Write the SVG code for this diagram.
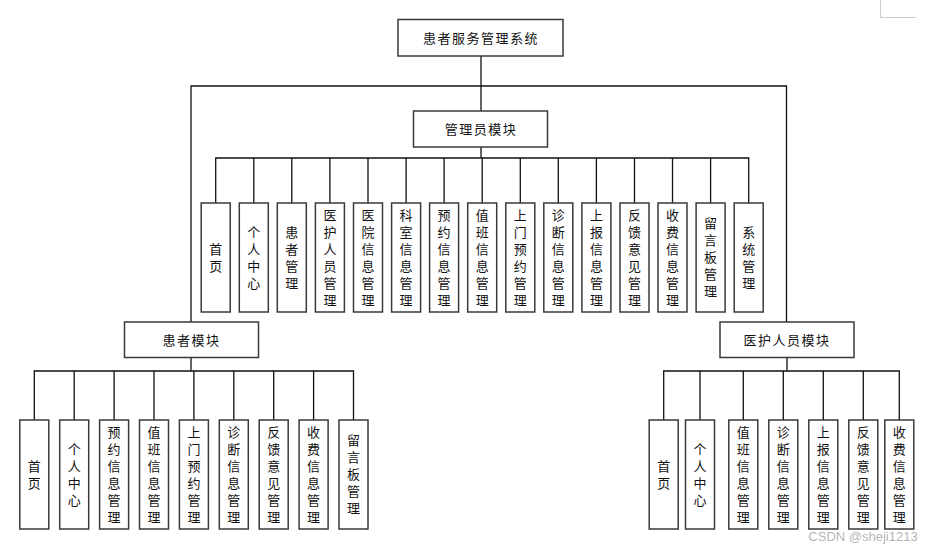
<svg xmlns="http://www.w3.org/2000/svg" width="939" height="546" viewBox="0 0 939 546">
<style>
.box{fill:#fff;stroke:#3a3a3a;stroke-width:1.5}
.ln{fill:none;stroke:#111;stroke-width:1.3}
.t{font-family:"Liberation Sans","Noto Sans CJK SC",sans-serif;font-size:13px;fill:#111;text-anchor:middle}
.h{letter-spacing:1.5px}
</style>
<rect width="939" height="546" fill="#fff"/>
<path d="M880.5 0V17.5H916" fill="none" stroke="#ccc" stroke-width="1"/>
<g id="connectors" class="ln">
<path d="M481 56V111"/>
<path d="M191 322V86H786.5V322"/>
<path d="M481 147V158"/>
<path d="M215.7 203V158H748.7V203M253.8 158V203M291.8 158V203M329.9 158V203M368 158V203M406.1 158V203M444.1 158V203M482.2 158V203M520.3 158V203M558.3 158V203M596.4 158V203M634.5 158V203M672.5 158V203M710.6 158V203"/>
<path d="M191 357V371"/>
<path d="M34.3 420V371H353.5V420M74.2 371V420M114.1 371V420M154 371V420M193.9 371V420M233.8 371V420M273.7 371V420M313.6 371V420"/>
<path d="M787 357V371"/>
<path d="M663.7 420V371H899.3V420M700 371V420M743.3 371V420M783.3 371V420M823.3 371V420M863.3 371V420"/>
</g>
<g id="root"><rect class="box" x="398" y="19.5" width="165" height="36.5"/><text class="t h" x="481" y="43">患者服务管理系统</text></g>
<g id="admin"><rect class="box" x="413.5" y="111" width="134" height="36"/><text class="t h" x="481" y="134">管理员模块</text></g>
<g id="patient"><rect class="box" x="124.5" y="322" width="134" height="35.5"/><text class="t h" x="191.5" y="344.5">患者模块</text></g>
<g id="staff"><rect class="box" x="720" y="322" width="134" height="35.5"/><text class="t h" x="787" y="344.5">医护人员模块</text></g>

<g id="a0"><rect class="box" x="201.2" y="203" width="29" height="109"/><text class="t" y="253.5"><tspan x="215.7">首</tspan><tspan x="215.7" dy="17">页</tspan></text></g>
<g id="a1"><rect class="box" x="239.3" y="203" width="29" height="109"/><text class="t" y="236.5"><tspan x="253.8">个</tspan><tspan x="253.8" dy="17">人</tspan><tspan x="253.8" dy="17">中</tspan><tspan x="253.8" dy="17">心</tspan></text></g>
<g id="a2"><rect class="box" x="277.3" y="203" width="29" height="109"/><text class="t" y="236.5"><tspan x="291.8">患</tspan><tspan x="291.8" dy="17">者</tspan><tspan x="291.8" dy="17">管</tspan><tspan x="291.8" dy="17">理</tspan></text></g>
<g id="a3"><rect class="box" x="315.4" y="203" width="29" height="109"/><text class="t" y="219.5"><tspan x="329.9">医</tspan><tspan x="329.9" dy="17">护</tspan><tspan x="329.9" dy="17">人</tspan><tspan x="329.9" dy="17">员</tspan><tspan x="329.9" dy="17">管</tspan><tspan x="329.9" dy="17">理</tspan></text></g>
<g id="a4"><rect class="box" x="353.5" y="203" width="29" height="109"/><text class="t" y="219.5"><tspan x="368">医</tspan><tspan x="368" dy="17">院</tspan><tspan x="368" dy="17">信</tspan><tspan x="368" dy="17">息</tspan><tspan x="368" dy="17">管</tspan><tspan x="368" dy="17">理</tspan></text></g>
<g id="a5"><rect class="box" x="391.6" y="203" width="29" height="109"/><text class="t" y="219.5"><tspan x="406.1">科</tspan><tspan x="406.1" dy="17">室</tspan><tspan x="406.1" dy="17">信</tspan><tspan x="406.1" dy="17">息</tspan><tspan x="406.1" dy="17">管</tspan><tspan x="406.1" dy="17">理</tspan></text></g>
<g id="a6"><rect class="box" x="429.6" y="203" width="29" height="109"/><text class="t" y="219.5"><tspan x="444.1">预</tspan><tspan x="444.1" dy="17">约</tspan><tspan x="444.1" dy="17">信</tspan><tspan x="444.1" dy="17">息</tspan><tspan x="444.1" dy="17">管</tspan><tspan x="444.1" dy="17">理</tspan></text></g>
<g id="a7"><rect class="box" x="467.7" y="203" width="29" height="109"/><text class="t" y="219.5"><tspan x="482.2">值</tspan><tspan x="482.2" dy="17">班</tspan><tspan x="482.2" dy="17">信</tspan><tspan x="482.2" dy="17">息</tspan><tspan x="482.2" dy="17">管</tspan><tspan x="482.2" dy="17">理</tspan></text></g>
<g id="a8"><rect class="box" x="505.8" y="203" width="29" height="109"/><text class="t" y="219.5"><tspan x="520.3">上</tspan><tspan x="520.3" dy="17">门</tspan><tspan x="520.3" dy="17">预</tspan><tspan x="520.3" dy="17">约</tspan><tspan x="520.3" dy="17">管</tspan><tspan x="520.3" dy="17">理</tspan></text></g>
<g id="a9"><rect class="box" x="543.8" y="203" width="29" height="109"/><text class="t" y="219.5"><tspan x="558.3">诊</tspan><tspan x="558.3" dy="17">断</tspan><tspan x="558.3" dy="17">信</tspan><tspan x="558.3" dy="17">息</tspan><tspan x="558.3" dy="17">管</tspan><tspan x="558.3" dy="17">理</tspan></text></g>
<g id="a10"><rect class="box" x="581.9" y="203" width="29" height="109"/><text class="t" y="219.5"><tspan x="596.4">上</tspan><tspan x="596.4" dy="17">报</tspan><tspan x="596.4" dy="17">信</tspan><tspan x="596.4" dy="17">息</tspan><tspan x="596.4" dy="17">管</tspan><tspan x="596.4" dy="17">理</tspan></text></g>
<g id="a11"><rect class="box" x="620" y="203" width="29" height="109"/><text class="t" y="219.5"><tspan x="634.5">反</tspan><tspan x="634.5" dy="17">馈</tspan><tspan x="634.5" dy="17">意</tspan><tspan x="634.5" dy="17">见</tspan><tspan x="634.5" dy="17">管</tspan><tspan x="634.5" dy="17">理</tspan></text></g>
<g id="a12"><rect class="box" x="658" y="203" width="29" height="109"/><text class="t" y="219.5"><tspan x="672.5">收</tspan><tspan x="672.5" dy="17">费</tspan><tspan x="672.5" dy="17">信</tspan><tspan x="672.5" dy="17">息</tspan><tspan x="672.5" dy="17">管</tspan><tspan x="672.5" dy="17">理</tspan></text></g>
<g id="a13"><rect class="box" x="696.1" y="203" width="29" height="109"/><text class="t" y="228"><tspan x="710.6">留</tspan><tspan x="710.6" dy="17">言</tspan><tspan x="710.6" dy="17">板</tspan><tspan x="710.6" dy="17">管</tspan><tspan x="710.6" dy="17">理</tspan></text></g>
<g id="a14"><rect class="box" x="734.2" y="203" width="29" height="109"/><text class="t" y="236.5"><tspan x="748.7">系</tspan><tspan x="748.7" dy="17">统</tspan><tspan x="748.7" dy="17">管</tspan><tspan x="748.7" dy="17">理</tspan></text></g>

<g id="p0"><rect class="box" x="19.8" y="420" width="29" height="109"/><text class="t" y="470.5"><tspan x="34.3">首</tspan><tspan x="34.3" dy="17">页</tspan></text></g>
<g id="p1"><rect class="box" x="59.7" y="420" width="29" height="109"/><text class="t" y="453.5"><tspan x="74.2">个</tspan><tspan x="74.2" dy="17">人</tspan><tspan x="74.2" dy="17">中</tspan><tspan x="74.2" dy="17">心</tspan></text></g>
<g id="p2"><rect class="box" x="99.6" y="420" width="29" height="109"/><text class="t" y="436.5"><tspan x="114.1">预</tspan><tspan x="114.1" dy="17">约</tspan><tspan x="114.1" dy="17">信</tspan><tspan x="114.1" dy="17">息</tspan><tspan x="114.1" dy="17">管</tspan><tspan x="114.1" dy="17">理</tspan></text></g>
<g id="p3"><rect class="box" x="139.5" y="420" width="29" height="109"/><text class="t" y="436.5"><tspan x="154">值</tspan><tspan x="154" dy="17">班</tspan><tspan x="154" dy="17">信</tspan><tspan x="154" dy="17">息</tspan><tspan x="154" dy="17">管</tspan><tspan x="154" dy="17">理</tspan></text></g>
<g id="p4"><rect class="box" x="179.4" y="420" width="29" height="109"/><text class="t" y="436.5"><tspan x="193.9">上</tspan><tspan x="193.9" dy="17">门</tspan><tspan x="193.9" dy="17">预</tspan><tspan x="193.9" dy="17">约</tspan><tspan x="193.9" dy="17">管</tspan><tspan x="193.9" dy="17">理</tspan></text></g>
<g id="p5"><rect class="box" x="219.3" y="420" width="29" height="109"/><text class="t" y="436.5"><tspan x="233.8">诊</tspan><tspan x="233.8" dy="17">断</tspan><tspan x="233.8" dy="17">信</tspan><tspan x="233.8" dy="17">息</tspan><tspan x="233.8" dy="17">管</tspan><tspan x="233.8" dy="17">理</tspan></text></g>
<g id="p6"><rect class="box" x="259.2" y="420" width="29" height="109"/><text class="t" y="436.5"><tspan x="273.7">反</tspan><tspan x="273.7" dy="17">馈</tspan><tspan x="273.7" dy="17">意</tspan><tspan x="273.7" dy="17">见</tspan><tspan x="273.7" dy="17">管</tspan><tspan x="273.7" dy="17">理</tspan></text></g>
<g id="p7"><rect class="box" x="299.1" y="420" width="29" height="109"/><text class="t" y="436.5"><tspan x="313.6">收</tspan><tspan x="313.6" dy="17">费</tspan><tspan x="313.6" dy="17">信</tspan><tspan x="313.6" dy="17">息</tspan><tspan x="313.6" dy="17">管</tspan><tspan x="313.6" dy="17">理</tspan></text></g>
<g id="p8"><rect class="box" x="339" y="420" width="29" height="109"/><text class="t" y="445"><tspan x="353.5">留</tspan><tspan x="353.5" dy="17">言</tspan><tspan x="353.5" dy="17">板</tspan><tspan x="353.5" dy="17">管</tspan><tspan x="353.5" dy="17">理</tspan></text></g>

<g id="s0"><rect class="box" x="649.2" y="420" width="29" height="109"/><text class="t" y="470.5"><tspan x="663.7">首</tspan><tspan x="663.7" dy="17">页</tspan></text></g>
<g id="s1"><rect class="box" x="685.5" y="420" width="29" height="109"/><text class="t" y="453.5"><tspan x="700">个</tspan><tspan x="700" dy="17">人</tspan><tspan x="700" dy="17">中</tspan><tspan x="700" dy="17">心</tspan></text></g>
<g id="s2"><rect class="box" x="728.8" y="420" width="29" height="109"/><text class="t" y="436.5"><tspan x="743.3">值</tspan><tspan x="743.3" dy="17">班</tspan><tspan x="743.3" dy="17">信</tspan><tspan x="743.3" dy="17">息</tspan><tspan x="743.3" dy="17">管</tspan><tspan x="743.3" dy="17">理</tspan></text></g>
<g id="s3"><rect class="box" x="768.8" y="420" width="29" height="109"/><text class="t" y="436.5"><tspan x="783.3">诊</tspan><tspan x="783.3" dy="17">断</tspan><tspan x="783.3" dy="17">信</tspan><tspan x="783.3" dy="17">息</tspan><tspan x="783.3" dy="17">管</tspan><tspan x="783.3" dy="17">理</tspan></text></g>
<g id="s4"><rect class="box" x="808.8" y="420" width="29" height="109"/><text class="t" y="436.5"><tspan x="823.3">上</tspan><tspan x="823.3" dy="17">报</tspan><tspan x="823.3" dy="17">信</tspan><tspan x="823.3" dy="17">息</tspan><tspan x="823.3" dy="17">管</tspan><tspan x="823.3" dy="17">理</tspan></text></g>
<g id="s5"><rect class="box" x="848.8" y="420" width="29" height="109"/><text class="t" y="436.5"><tspan x="863.3">反</tspan><tspan x="863.3" dy="17">馈</tspan><tspan x="863.3" dy="17">意</tspan><tspan x="863.3" dy="17">见</tspan><tspan x="863.3" dy="17">管</tspan><tspan x="863.3" dy="17">理</tspan></text></g>
<g id="s6"><rect class="box" x="884.8" y="420" width="29" height="109"/><text class="t" y="436.5"><tspan x="899.3">收</tspan><tspan x="899.3" dy="17">费</tspan><tspan x="899.3" dy="17">信</tspan><tspan x="899.3" dy="17">息</tspan><tspan x="899.3" dy="17">管</tspan><tspan x="899.3" dy="17">理</tspan></text></g>

<text x="863" y="541" font-family="Liberation Sans, Noto Sans CJK SC, sans-serif" font-size="13" fill="#999" fill-opacity="0.75" text-anchor="middle">CSDN @sheji1213</text>
</svg>
